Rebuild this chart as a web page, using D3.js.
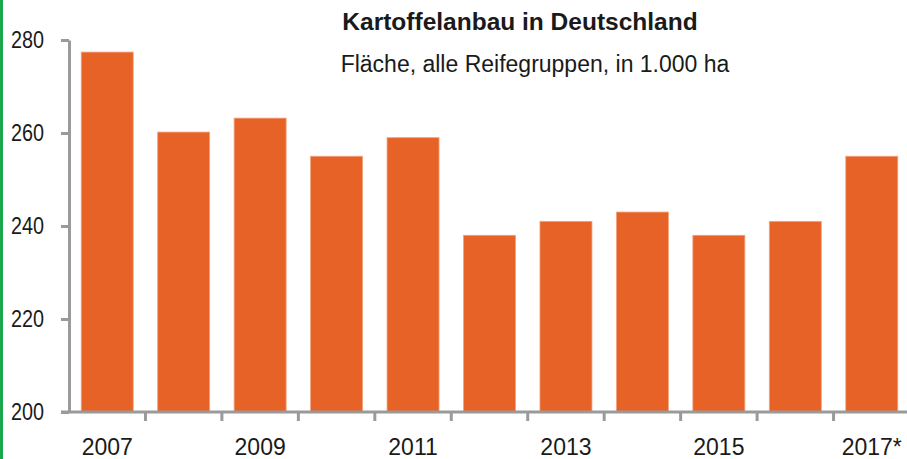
<!DOCTYPE html>
<html lang="de">
<head>
<meta charset="UTF-8"/>
<title>Kartoffelanbau in Deutschland</title>
<script src="https://d3js.org/d3.v7.min.js"></script>
<style>
  body { margin: 0; background: #fff; }
  text { font-family: "Liberation Sans Narrow", "Arial Narrow", "Liberation Sans", sans-serif; fill: #1a1a1a; }
</style>
</head>
<body>
<script>
var w = 907;
var h = 459;

var years = ["2007","2008","2009","2010","2011","2012","2013","2014","2015","2016","2017*"];
var values = [277.4, 260.2, 263.2, 255, 259, 238, 241, 243, 238, 241, 255];
var yTicks = [200, 220, 240, 260, 280];
var shownYears = ["2007","2009","2011","2013","2015","2017*"];

var plotLeft = 69, plotRight = 910, plotTop = 40, plotBottom = 412;
var axisColor = "#9a9a9a";

var svg = d3.select("body").append("svg")
    .attr("width", w)
    .attr("height", h);

// green frame on the left
svg.append("rect")
    .attr("x", 0).attr("y", 0)
    .attr("width", 3).attr("height", h)
    .attr("fill", "#1aa64a");

var xScale = d3.scaleBand()
    .domain(years)
    .range([plotLeft, plotRight])
    .paddingInner(0.32)
    .paddingOuter(0.16);

var yScale = d3.scaleLinear()
    .domain([200, 280])
    .range([plotBottom, plotTop]);

// bars
svg.selectAll("rect.bar")
    .data(values)
    .enter()
    .append("rect")
    .attr("class", "bar")
    .attr("x", function(d, i){ return xScale(years[i]); })
    .attr("y", function(d){ return yScale(d); })
    .attr("width", xScale.bandwidth())
    .attr("height", function(d){ return yScale(200) - yScale(d); })
    .attr("fill", "#e66226")
    .attr("stroke", "#f3a27e")
    .attr("stroke-width", 0.8);

// y axis
var yAxis = svg.append("g")
    .attr("transform", "translate(" + plotLeft + ",0)")
    .call(d3.axisLeft(yScale).tickValues(yTicks).tickSize(8).tickSizeOuter(0).tickPadding(17));
yAxis.select(".domain").attr("stroke", axisColor).attr("stroke-width", 3);
yAxis.selectAll(".tick line").attr("stroke", axisColor).attr("stroke-width", 3);
yAxis.selectAll(".tick text")
    .attr("font-size", 23)
    .attr("fill", "#1a1a1a")
    .attr("textLength", 33)
    .attr("lengthAdjust", "spacingAndGlyphs")
    .style("font-family", "'Liberation Sans Narrow', 'Arial Narrow', 'Liberation Sans', sans-serif");

// x axis
svg.append("line")
    .attr("x1", plotLeft - 8).attr("x2", w)
    .attr("y1", plotBottom).attr("y2", plotBottom)
    .attr("stroke", axisColor).attr("stroke-width", 3);

var step = xScale.step();
var boundaries = years.map(function(d){ return xScale(d) - xScale.paddingInner() * step / 2 + step; });
svg.selectAll("line.xtick")
    .data(boundaries)
    .enter()
    .append("line")
    .attr("class", "xtick")
    .attr("x1", function(d){ return d; })
    .attr("x2", function(d){ return d; })
    .attr("y1", plotBottom)
    .attr("y2", plotBottom + 9)
    .attr("stroke", axisColor)
    .attr("stroke-width", 3);

svg.selectAll("text.xlabel")
    .data(shownYears)
    .enter()
    .append("text")
    .attr("class", "xlabel")
    .attr("x", function(d){ return xScale(d) + xScale.bandwidth() / 2; })
    .attr("y", 455)
    .attr("text-anchor", "middle")
    .attr("font-size", 23)
    .text(function(d){ return d; });

// titles
svg.append("text")
    .attr("x", 520).attr("y", 30)
    .attr("text-anchor", "middle")
    .attr("font-size", 24.5)
    .attr("font-weight", "bold")
    .text("Kartoffelanbau in Deutschland");

svg.append("text")
    .attr("x", 535).attr("y", 72)
    .attr("text-anchor", "middle")
    .attr("font-size", 23)
    .text("Fläche, alle Reifegruppen, in 1.000 ha");
</script>
</body>
</html>
